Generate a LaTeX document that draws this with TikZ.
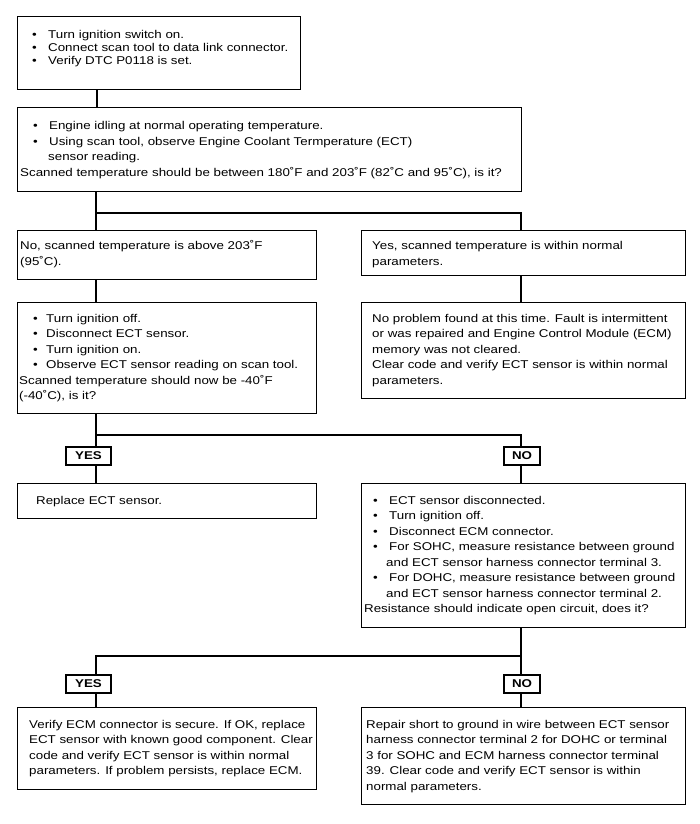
\documentclass[tikz,border=0pt]{standalone}
\usepackage{fontspec}
\setmainfont[FakeStretch=1.18]{Liberation Sans}
\newcommand{\bulA}[1]{\makebox[16pt][l]{•}#1}
\newcommand{\bulB}[1]{\hspace*{13pt}\makebox[16pt][l]{•}#1}
\newcommand{\bulC}[1]{\hspace*{9pt}\makebox[16pt][l]{•}#1}
\newcommand{\bulD}[1]{\hspace*{14pt}\makebox[13pt][l]{•}#1}
\begin{document}
\begin{tikzpicture}[x=1pt,y=-1pt,
  box/.style={draw, line width=1.2pt, inner sep=0pt, anchor=north west},
  txt/.style={anchor=north west, inner sep=0pt, align=left,
    font=\fontsize{11.3}{15.5}\selectfont},
  lbl/.style={draw, line width=1.2pt, inner sep=0pt, fill=white,
    font=\bfseries\fontsize{11.3}{12}\selectfont, minimum height=18pt},
  conn/.style={line width=1.2pt}]
\useasboundingbox (0,0) rectangle (700,824);

% boxes
\node[box, minimum width=283pt, minimum height=73pt] (b1) at (17,16) {};
\node[box, minimum width=504pt, minimum height=84pt] (b2) at (17,107) {};
\node[box, minimum width=299pt, minimum height=49pt] (b3l) at (17,230) {};
\node[box, minimum width=324pt, minimum height=45pt] (b3r) at (361,230) {};
\node[box, minimum width=299pt, minimum height=111pt] (b4l) at (17,302) {};
\node[box, minimum width=324pt, minimum height=96pt] (b4r) at (361,302) {};
\node[box, minimum width=299pt, minimum height=35pt] (b5l) at (17,483) {};
\node[box, minimum width=324pt, minimum height=144pt] (b5r) at (361,483) {};
\node[box, minimum width=299pt, minimum height=82pt] (b6l) at (17,707) {};
\node[box, minimum width=324pt, minimum height=97pt] (b6r) at (361,707) {};

% labels
\node[lbl, minimum width=45pt] (y1) at (88.5,456) {YES};
\node[lbl, minimum width=36pt] (n1) at (522,456) {NO};
\node[lbl, minimum width=45pt] (y2) at (88.5,684) {YES};
\node[lbl, minimum width=36pt] (n2) at (522,684) {NO};

% texts
\node[txt, font=\fontsize{11.3}{13}\selectfont] (t1) at (32,28.9) {\strut\bulA{Turn ignition switch on.}\\
\bulA{Connect scan tool to data link connector.}\\
\bulA{Verify DTC P0118 is set.}};

\node[txt] (t2) at (20,118.75) {\strut\bulB{Engine idling at normal operating temperature.}\\
\bulB{Using scan tool, observe Engine Coolant Termperature (ECT)}\\
\hspace*{28pt}sensor reading.\\
Scanned temperature should be between 180˚F and 203˚F (82˚C and 95˚C), is it?};

\node[txt] (t3l) at (20,238.75) {\strut No, scanned temperature is above 203˚F\\(95˚C).};
\node[txt] (t3r) at (372,238.75) {\strut Yes, scanned temperature is within normal\\parameters.};

\node[txt] (t4l) at (19,311.25) {\strut\bulD{Turn ignition off.}\\
\bulD{Disconnect ECT sensor.}\\
\bulD{Turn ignition on.}\\
\bulD{Observe ECT sensor reading on scan tool.}\\
Scanned temperature should now be -40˚F\\
(-40˚C), is it?};

\node[txt] (t4r) at (372,311.25) {\strut No problem found at this time. Fault is intermittent\\
or was repaired and Engine Control Module (ECM)\\
memory was not cleared.\\
Clear code and verify ECT sensor is within normal\\
parameters.};

\node[txt] (t5l) at (36,493.25) {\strut Replace ECT sensor.};

\node[txt] (t5r) at (364,493.25) {\strut\bulC{ECT sensor disconnected.}\\
\bulC{Turn ignition off.}\\
\bulC{Disconnect ECM connector.}\\
\bulC{For SOHC, measure resistance between ground}\\
\hspace*{22pt}and ECT sensor harness connector terminal 3.\\
\bulC{For DOHC, measure resistance between ground}\\
\hspace*{22pt}and ECT sensor harness connector terminal 2.\\
Resistance should indicate open circuit, does it?};

\node[txt] (t6l) at (29,717.25) {\strut Verify ECM connector is secure. If OK, replace\\
ECT sensor with known good component. Clear\\
code and verify ECT sensor is within normal\\
parameters. If problem persists, replace ECM.};

\node[txt] (t6r) at (366,717.25) {\strut Repair short to ground in wire between ECT sensor\\
harness connector terminal 2 for DOHC or terminal\\
3 for SOHC and ECM harness connector terminal\\
39. Clear code and verify ECT sensor is within\\
normal parameters.};

% junction coordinates
\coordinate (c1) at (97,98);
\coordinate (j1) at (96,213);
\coordinate (j1r) at (521,213);
\coordinate (j2) at (96,435);
\coordinate (j2r) at (521,435);
\coordinate (j3) at (96,656);
\coordinate (j3r) at (521,656);

% connectors
\draw[conn] (b1.south -| c1) -- (c1 |- b2.north);
\draw[conn] (b2.south -| j1) -- (j1) -- (j1r) -- (j1r |- b3r.north);
\draw[conn] (j1) -- (j1 |- b3l.north);
\draw[conn] (b3l.south -| j1) -- (j1 |- b4l.north);
\draw[conn] (b3r.south -| j1r) -- (j1r |- b4r.north);
\draw[conn] (b4l.south -| j2) -- (j2) -- (j2r) -- (j2r |- n1.north);
\draw[conn] (j2) -- (j2 |- y1.north);
\draw[conn] (y1.south -| j2) -- (j2 |- b5l.north);
\draw[conn] (n1.south -| j2r) -- (j2r |- b5r.north);
\draw[conn] (b5r.south -| j3r) -- (j3r) -- (j3) -- (j3 |- y2.north);
\draw[conn] (j3r) -- (j3r |- n2.north);
\draw[conn] (y2.south -| j3) -- (j3 |- b6l.north);
\draw[conn] (n2.south -| j3r) -- (j3r |- b6r.north);
\end{tikzpicture}
\end{document}
